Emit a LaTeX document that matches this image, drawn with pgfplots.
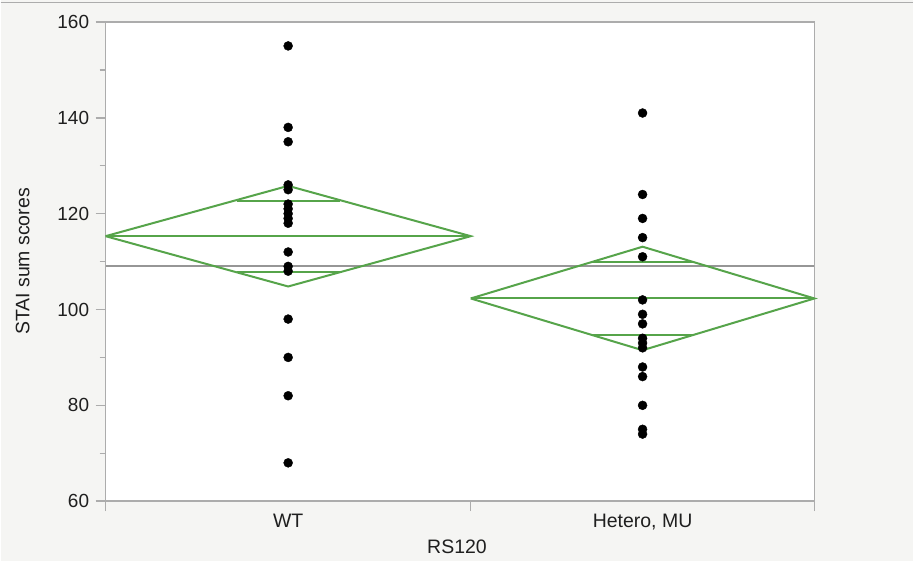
\documentclass[border=0pt]{standalone}
\usepackage{pgfplots}
\pgfplotsset{compat=1.18}
\usepackage{fontspec}
\setmainfont{Liberation Sans}

\definecolor{panel}{RGB}{245,245,243}
\definecolor{axisgray}{RGB}{172,172,172}
\definecolor{diamondgreen}{RGB}{86,164,74}
\definecolor{grandgray}{RGB}{150,150,150}

% Group positions: WT spans 0..17 (n = 17), Hetero, MU spans 17..33 (n = 16)
\pgfplotstableread{
x    y
8.5  155
8.5  138
8.5  135
8.5  126
8.5  125
8.5  122
8.5  121
8.5  120
8.5  119
8.5  118
8.5  112
8.5  109
8.5  108
8.5  98
8.5  90
8.5  82
8.5  68
}\wtdata

\pgfplotstableread{
x    y
25   141
25   124
25   119
25   115
25   111
25   102
25   99
25   97
25   94
25   93
25   92
25   88
25   86
25   80
25   75
25   74
}\herodata

\begin{document}
\begin{tikzpicture}[x=1pt,y=1pt]
\fill[panel] (0,0) rectangle (914,562);
\draw[axisgray, line width=1.5pt] (0,559.5) -- (914,559.5);
\begin{axis}[
  at={(105pt,60pt)}, anchor=south west,
  width=710pt, height=480pt, scale only axis,
  xmin=0, xmax=33, ymin=60, ymax=160,
  axis background/.style={fill=white},
  axis line style={axisgray, line width=1.5pt},
  clip=false,
  tick align=outside,
  /pgf/number format/assume math mode=true,
  ytick={60,80,...,160}, minor ytick={70,90,...,150},
  xtick={0,17,33}, xticklabels={},
  ytick pos=left, xtick pos=bottom,
  major tick length=10pt, minor tick length=6pt,
  tick style={axisgray, line width=1.5pt},
  yticklabel style={font=\fontsize{19}{21}\selectfont, text=black!88, xshift=-3pt},
  ylabel={STAI sum scores},
  xlabel={RS120},
  label style={font=\fontsize{19.5}{21}\selectfont, text=black!88},
  ylabel style={at={(axis description cs:-0.117,0.5)}, anchor=center},
  xlabel style={at={(axis description cs:0.5,0)}, anchor=center, yshift=-46pt, xshift=-3pt},
]
% grand mean
\addplot[grandgray, line width=2pt] coordinates {(0,109) (33,109)};

% WT means diamond
\addplot[diamondgreen, line width=2pt] coordinates {(0,115.3) (8.5,125.8) (17,115.3) (8.5,104.8) (0,115.3)};
\addplot[diamondgreen, line width=2pt] coordinates {(0,115.3) (17,115.3)};
\addplot[diamondgreen, line width=2pt] coordinates {(6.1,122.7) (10.9,122.7)};
\addplot[diamondgreen, line width=2pt] coordinates {(6.1,107.9) (10.9,107.9)};

% Hetero, MU means diamond
\addplot[diamondgreen, line width=2pt] coordinates {(17,102.3) (25,113.1) (33,102.3) (25,91.5) (17,102.3)};
\addplot[diamondgreen, line width=2pt] coordinates {(17,102.3) (33,102.3)};
\addplot[diamondgreen, line width=2pt] coordinates {(22.6,110.0) (27.4,110.0)};
\addplot[diamondgreen, line width=2pt] coordinates {(22.6,94.6) (27.4,94.6)};

% individual scores
\addplot[only marks, mark=*, mark size=4.5pt, black] table[x=x, y=y] {\wtdata};
\addplot[only marks, mark=*, mark size=4.5pt, black] table[x=x, y=y] {\herodata};

% category names
\node[anchor=base, font=\fontsize{19.5}{21}\selectfont, text=black!88] at (axis cs:8.5,60) [yshift=-26pt] {WT};
\node[anchor=base, font=\fontsize{19.5}{21}\selectfont, text=black!88] at (axis cs:25,60) [yshift=-26pt] {Hetero, MU};
\end{axis}
\end{tikzpicture}
\end{document}
